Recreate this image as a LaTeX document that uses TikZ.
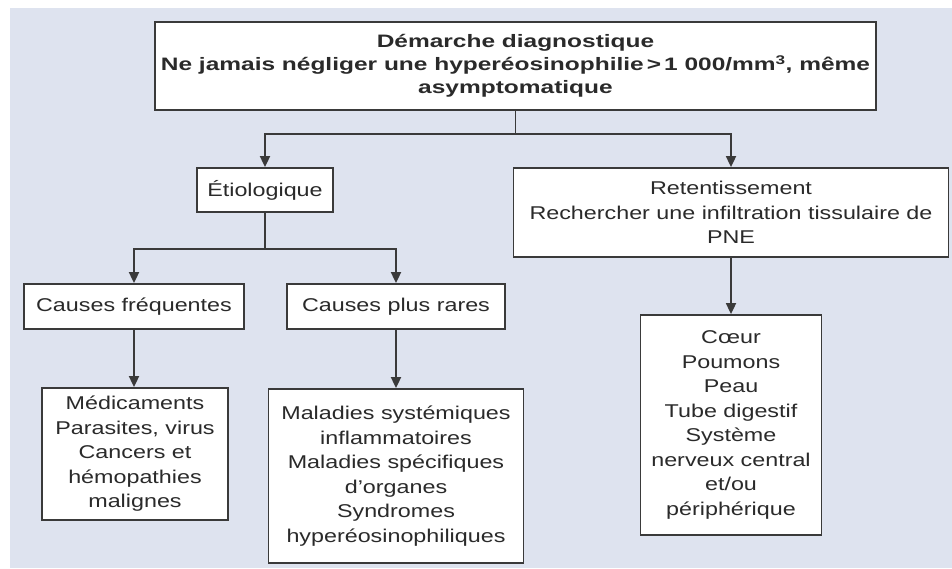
\documentclass[tikz,border=0pt]{standalone}
\usepackage{fontspec}
\setmainfont{Liberation Sans}[FakeStretch=1.26]
\newfontfamily\titlefont{Liberation Sans}[FakeStretch=1.36]
\usetikzlibrary{arrows.meta,calc}
\definecolor{bgc}{HTML}{DEE3EF}
\definecolor{linec}{HTML}{3A3A3A}
\definecolor{txtc}{HTML}{2A2A2A}
\tikzset{
  box/.style={draw=linec, line width=1.8pt, fill=white, text=txtc, align=center, inner sep=0pt,
    font=\fontsize{18.5}{24.5}\selectfont},
  titlebox/.style={box, font=\titlefont\fontsize{18}{23}\selectfont\bfseries},
  conn/.style={draw=linec, line width=1.8pt},
  arr/.style={conn, -{Triangle[width=10pt,length=11pt]}}
}
\begin{document}
\begin{tikzpicture}[x=1pt,y=-1pt]
\useasboundingbox (0,0) rectangle (952,568);
\fill[white] (0,0) rectangle (952,568);
\fill[bgc] (10,8) rectangle (952,568);

\node[titlebox, minimum width=721pt, minimum height=88pt] (top) at (515.5,66)
  {Démarche diagnostique\\Ne jamais négliger une hyperéosinophilie\,>\,1 000/mm\textsuperscript{3}, même\\asymptomatique};
\node[box, minimum width=136pt, minimum height=44pt] (etio) at (265,190) {Étiologique};
\node[box, minimum width=435pt, minimum height=89pt] (ret) at (731,212.5)
  {Retentissement\\Rechercher une infiltration tissulaire de\\PNE};
\node[box, minimum width=220pt, minimum height=45pt] (cf) at (134,306.5) {Causes fréquentes};
\node[box, minimum width=218pt, minimum height=45pt] (cpr) at (396,306.5) {Causes plus rares};
\node[box, minimum width=186pt, minimum height=132pt] (med) at (135,454)
  {Médicaments\\Parasites, virus\\Cancers et\\hémopathies\\malignes};
\node[box, minimum width=255pt, minimum height=174pt] (mal) at (396,476)
  {Maladies systémiques\\inflammatoires\\Maladies spécifiques\\d’organes\\Syndromes\\hyperéosinophiliques};
\node[box, minimum width=181pt, minimum height=220pt] (coeur) at (731,425)
  {Cœur\\Poumons\\Peau\\Tube digestif\\Système\\nerveux central\\et/ou\\périphérique};

\coordinate (s1) at ($(top.south)+(0,23)$);
\draw[conn] (top.south) -- (s1);
\draw[arr] (s1) -| (etio.north);
\draw[arr] (s1) -| (ret.north);

\coordinate (s2) at ($(etio.south)+(0,36)$);
\draw[conn] (etio.south) -- (s2);
\draw[arr] (s2) -| (cf.north);
\draw[arr] (s2) -| (cpr.north);

\draw[arr] (cf.south) -- (cf.south |- med.north);
\draw[arr] (cpr.south) -- (cpr.south |- mal.north);
\draw[arr] (ret.south) -- (ret.south |- coeur.north);
\end{tikzpicture}
\end{document}
